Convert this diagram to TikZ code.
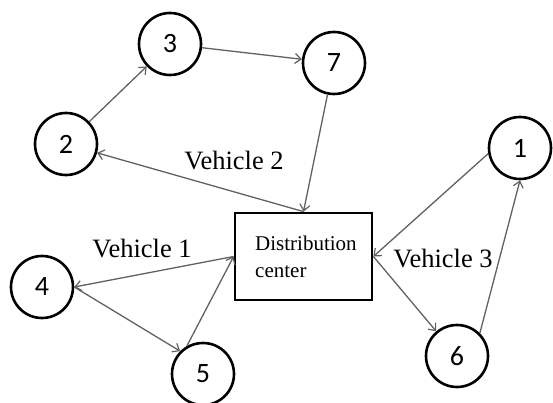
\documentclass[tikz,border=0pt]{standalone}
\usepackage{fontspec}
\setmainfont{Liberation Serif}
\newfontfamily\digitfont{Carlito}
\usetikzlibrary{arrows.meta}
\begin{document}
\begin{tikzpicture}[x=1pt,y=-1pt,
  stop/.style={circle,draw=black,line width=2.6pt,minimum size=62pt,inner sep=0pt,
    font=\digitfont\fontsize{28}{28}\selectfont},
  depot/.style={draw=black,line width=2.8pt,minimum width=137pt,minimum height=87pt,inner sep=0pt},
  arr/.style={draw=black!62,line width=1.3pt,-{Straight Barb[length=6pt,width=10pt,line width=1.2pt]}},
  vlabel/.style={anchor=base,inner sep=0pt,font=\fontsize{26.5}{30}\selectfont}]
\useasboundingbox (0,0) rectangle (553,403);
\node[stop] (n3) at (170,44) {3};
\node[stop] (n2) at (66,144) {2};
\node[stop] (n7) at (334,63) {7};
\node[stop] (n1) at (520,148) {1};
\node[stop] (n4) at (42,287) {4};
\node[stop] (n5) at (203,374) {5};
\node[stop] (n6) at (457,356) {6};
\node[depot] (box) at (303.5,256.5) {};
\node[anchor=base west,inner sep=0pt,align=left,font=\fontsize{21}{27}\selectfont] (dc) at (255,277) {Distribution\\center};
\node[vlabel] (v2) at (234,170) {Vehicle 2};
\node[vlabel] (v1) at (142,257) {Vehicle 1};
\node[vlabel] (v3) at (443,267) {Vehicle 3};
\draw[arr] (n2) -- (n3);
\draw[arr] (n3) -- (n7);
\draw[arr] (n7) -- (box.north);
\draw[arr] (box.north) -- (n2);
\draw[arr] (n1.190) -- (box.east);
\draw[arr] (box.east) -- (n6);
\draw[arr] (n6.45) -- (n1.south);
\draw[arr] (box.west) -- (n4.east);
\draw[arr] (n4.east) -- (n5.135);
\draw[arr] (n5.120) -- (box.west);
\end{tikzpicture}
\end{document}
